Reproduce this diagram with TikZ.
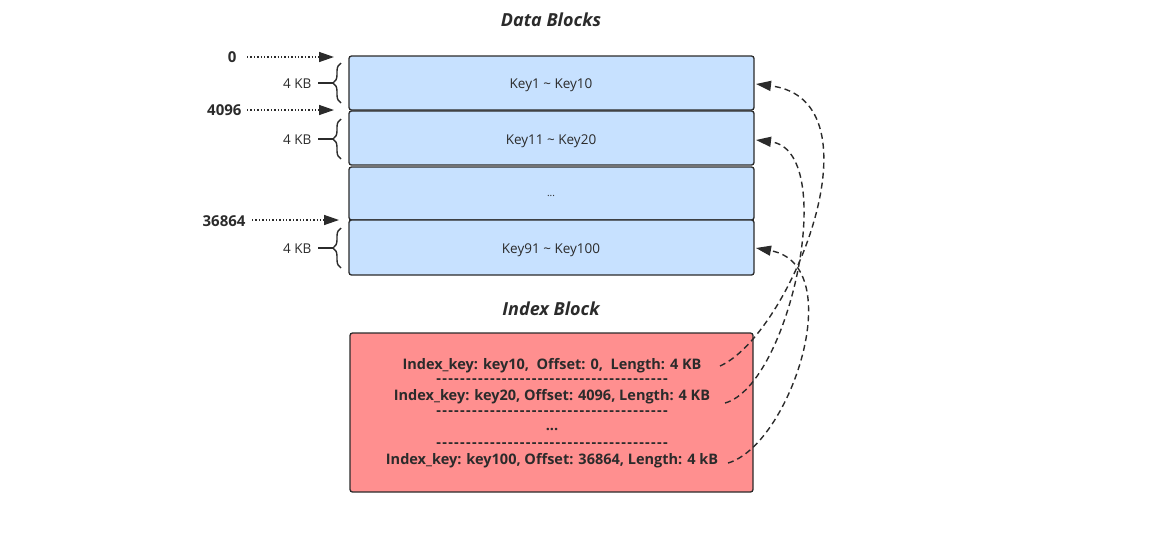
\documentclass[tikz,border=0pt]{standalone}
\usepackage{fontspec}
\setmainfont{Open Sans}
\usetikzlibrary{arrows.meta,decorations.pathreplacing}
\definecolor{ink}{HTML}{2B2B2B}
\definecolor{blu}{HTML}{C7E1FF}
\definecolor{rd}{HTML}{FF8F8F}
\newcommand\hh{-\kern1.3pt\relax}
\newcommand\dashrow{\hh\hh\hh\hh\hh\hh\hh\hh\hh\hh\hh\hh\hh\hh\hh\hh\hh\hh\hh\hh\hh\hh\hh\hh\hh\hh\hh\hh\hh\hh\hh\hh\hh\hh\hh\hh\hh\hh-}
\begin{document}
\begin{tikzpicture}[x=1pt,y=-1pt,
  blk/.style={draw=ink,line width=1.3pt,rounded corners=2.5pt,fill=blu},
  idx/.style={draw=ink,line width=1.3pt,rounded corners=2.5pt,fill=rd},
  ttl/.style={font=\fontsize{18}{20}\selectfont\bfseries\itshape,text=ink},
  lbl/.style={font=\fontsize{13.5}{15}\selectfont,text=ink},
  off/.style={font=\fontsize{15}{17}\selectfont\bfseries,text=ink},
  ptr/.style={draw=ink,line width=1.4pt,dotted,-{Triangle[length=15pt,width=10pt]}},
  brc/.style={draw=ink,line width=1.4pt,decorate,decoration={brace,amplitude=8pt,mirror}},
  lnk/.style={draw=ink,line width=1.4pt,dash pattern=on 6pt off 4pt,-{Triangle[length=15pt,width=10pt]}}]
\useasboundingbox (0,0) rectangle (1154,542);
\node[ttl] (t1) at (551,20) {Data Blocks};
\node[ttl] (t2) at (551,309) {Index Block};
\draw[blk] (349,56) rectangle (754,110);
\node[lbl] (b1) at (551,85) {Key1 \textasciitilde{} Key10};
\draw[blk] (349,111) rectangle (754,165);
\node[lbl] (b2) at (551,141) {Key11 \textasciitilde{} Key20};
\draw[blk] (349,167) rectangle (754,220);
\node[lbl] (b3) at (551,196) {\fontsize{10}{10}\selectfont ...};
\draw[blk] (349,220) rectangle (754,275);
\node[lbl] (b4) at (551,250) {Key91 \textasciitilde{} Key100};
\coordinate (r1) at (756,84);
\coordinate (r2) at (756,140);
\coordinate (r3) at (756,248);
% index block
\draw[idx] (350,333) rectangle (753,492);
\begin{scope}[every node/.style={font=\fontsize{14.5}{16}\selectfont\bfseries,text=ink,inner sep=0pt}]
\node (i1) at (552,366) {Index\_key: key10,\ \ Offset: 0,\ \ Length: 4 KB};
\node (d1) at (552,381) {\dashrow};
\node (i2) at (552,397) {Index\_key: key20, Offset: 4096, Length: 4 KB};
\node (d2) at (552,413) {\dashrow};
\node (i3) at (552,429) {...};
\node (d3) at (552,445) {\dashrow};
\node (i4) at (552,461) {Index\_key: key100, Offset: 36864, Length: 4 kB};
\end{scope}
\coordinate (s1) at (720,366);
\coordinate (s2) at (725,403);
\coordinate (s3) at (728,463);
% offsets
\node[off,anchor=east] (o1) at (240,57) {0};
\node[off,anchor=east] (o2) at (245,110) {4096};
\node[off,anchor=east] (o3) at (249,221) {36864};
\coordinate (q1) at (247,57);
\coordinate (q2) at (247,110);
\coordinate (q3) at (252,220);
\coordinate (p1) at (334,57);
\coordinate (p2) at (334,110);
\coordinate (p3) at (339,220);
\draw[ptr] (q1) -- (p1);
\draw[ptr] (q2) -- (p2);
\draw[ptr] (q3) -- (p3);
% braces
\coordinate (a1) at (341,63); \coordinate (z1) at (341,103);
\coordinate (a2) at (341,119); \coordinate (z2) at (341,159);
\coordinate (a3) at (341,228); \coordinate (z3) at (341,268);
\draw[brc] (a1) -- (z1);
\draw[brc] (a2) -- (z2);
\draw[brc] (a3) -- (z3);
\node[lbl,anchor=east] (k1) at (315,84) {4 KB};
\node[lbl,anchor=east] (k2) at (315,140) {4 KB};
\node[lbl,anchor=east] (k3) at (315,249) {4 KB};
\draw[draw=ink,line width=1.4pt] (318,83) -- (333,83);
\draw[draw=ink,line width=1.4pt] (318,139) -- (333,139);
\draw[draw=ink,line width=1.4pt] (318,248) -- (333,248);
% links
\draw[lnk] (s1) .. controls (790,335) and (885,100) .. (r1);
\draw[lnk] (s2) .. controls (790,385) and (840,150) .. (r2);
\draw[lnk] (s3) .. controls (790,445) and (850,265) .. (r3);
\end{tikzpicture}
\end{document}
